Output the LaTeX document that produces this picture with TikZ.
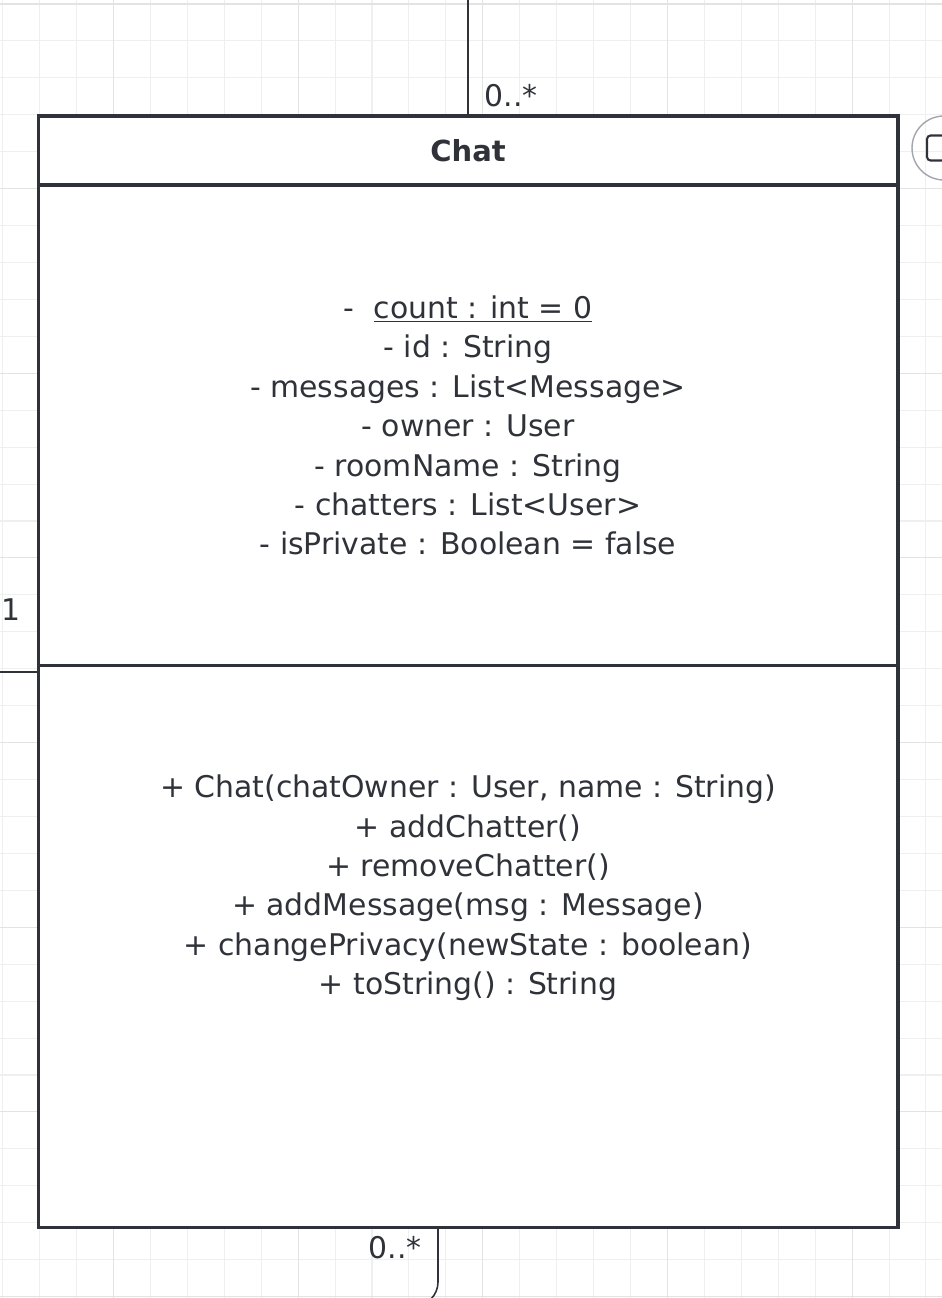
\documentclass[tikz,border=0pt]{standalone}
\usepackage{fontspec}
\setmainfont{DejaVu Sans}
\usepackage{xcolor}
\usepackage{tikz}
\usetikzlibrary{positioning, calc}

\definecolor{umlink}{HTML}{2F3239}
\definecolor{gridminor}{HTML}{EFEFEF}
\definecolor{gridmajor}{HTML}{E3E3E3}
\definecolor{widgetgray}{HTML}{A3A6AD}

\begin{document}
\begin{tikzpicture}[
    x=0.02cm, y=-0.02cm,
    compartment/.style={rectangle, draw=umlink, line width=1.8pt, fill=white, minimum width=17.2cm, inner sep=0pt, outer sep=0pt},
    member/.style={align=center, text=umlink, inner sep=0pt, font=\fontsize{17}{22.45}\selectfont},
    classname/.style={text=umlink, inner sep=0pt, font=\fontsize{16.5}{19}\selectfont\bfseries},
    mult/.style={text=umlink, inner sep=0pt, font=\fontsize{17}{20}\selectfont},
    assoc/.style={draw=umlink, line width=0.9pt}
]

\useasboundingbox (0,0) rectangle (942,1298);
\clip (0,0) rectangle (942,1298);

% Background grid
\foreach \i in {0,...,25}
    \draw[gridminor, line width=0.6pt] (2.7+36.93*\i,0) -- ++(0,1298);
\foreach \j in {0,...,35}
    \draw[gridminor, line width=0.6pt] (0,4+36.93*\j) -- ++(942,0);
\foreach \i in {3,8,13,18,23}
    \draw[gridmajor, line width=0.6pt] (2.7+36.93*\i,0) -- ++(0,1298);
\foreach \j in {0,5,...,35}
    \draw[gridmajor, line width=0.6pt] (0,4+36.93*\j) -- ++(942,0);

% Class compartments
\node[compartment, minimum height=1.38cm] (chathead) at (468,150.5) {};
\node[compartment, minimum height=9.62cm, below=0cm of chathead] (chatattrs) {};
\node[compartment, minimum height=11.24cm, below=0cm of chatattrs] (chatops) {};

\node[classname] (chatname) at (chathead) {Chat};

\node[member] (attrlist) at (chatattrs) {%
    - \ \underline{count : int = 0}\\
    - id : String\\
    - messages : List<Message>\\
    - owner : User\\
    - roomName : String\\
    - chatters : List<User>\\
    - isPrivate : Boolean = false};

\node[member] (oplist) at (468,888) {%
    + Chat(chatOwner : User, name : String)\\
    + addChatter()\\
    + removeChatter()\\
    + addMessage(msg : Message)\\
    + changePrivacy(newState : boolean)\\
    + toString() : String};

% Associations
\coordinate (topend) at (468,-10);
\coordinate (leftend) at (-10,672);
\coordinate (botend) at (300,1306);

\draw[assoc] (topend) -- (chathead.north);
\draw[assoc] (leftend) -- (leftend -| chatops.west);
\draw[assoc, rounded corners=0.48cm] ($(chatops.south)+(-30,0)$) |- (botend);

\node[mult] (topmult) at (511,96) {0..*};
\node[mult, anchor=west] (leftmult) at (1,610) {1};
\node[mult] (botmult) at (395,1248) {0..*};

% Side widget
\node[circle, draw=widgetgray, line width=0.8pt, minimum size=1.28cm] (widget) at (944,148) {};
\node[rectangle, rounded corners=2pt, draw=umlink, line width=1.2pt, minimum width=0.68cm, minimum height=0.5cm] (widgeticon) at (widget) {};

\end{tikzpicture}
\end{document}
